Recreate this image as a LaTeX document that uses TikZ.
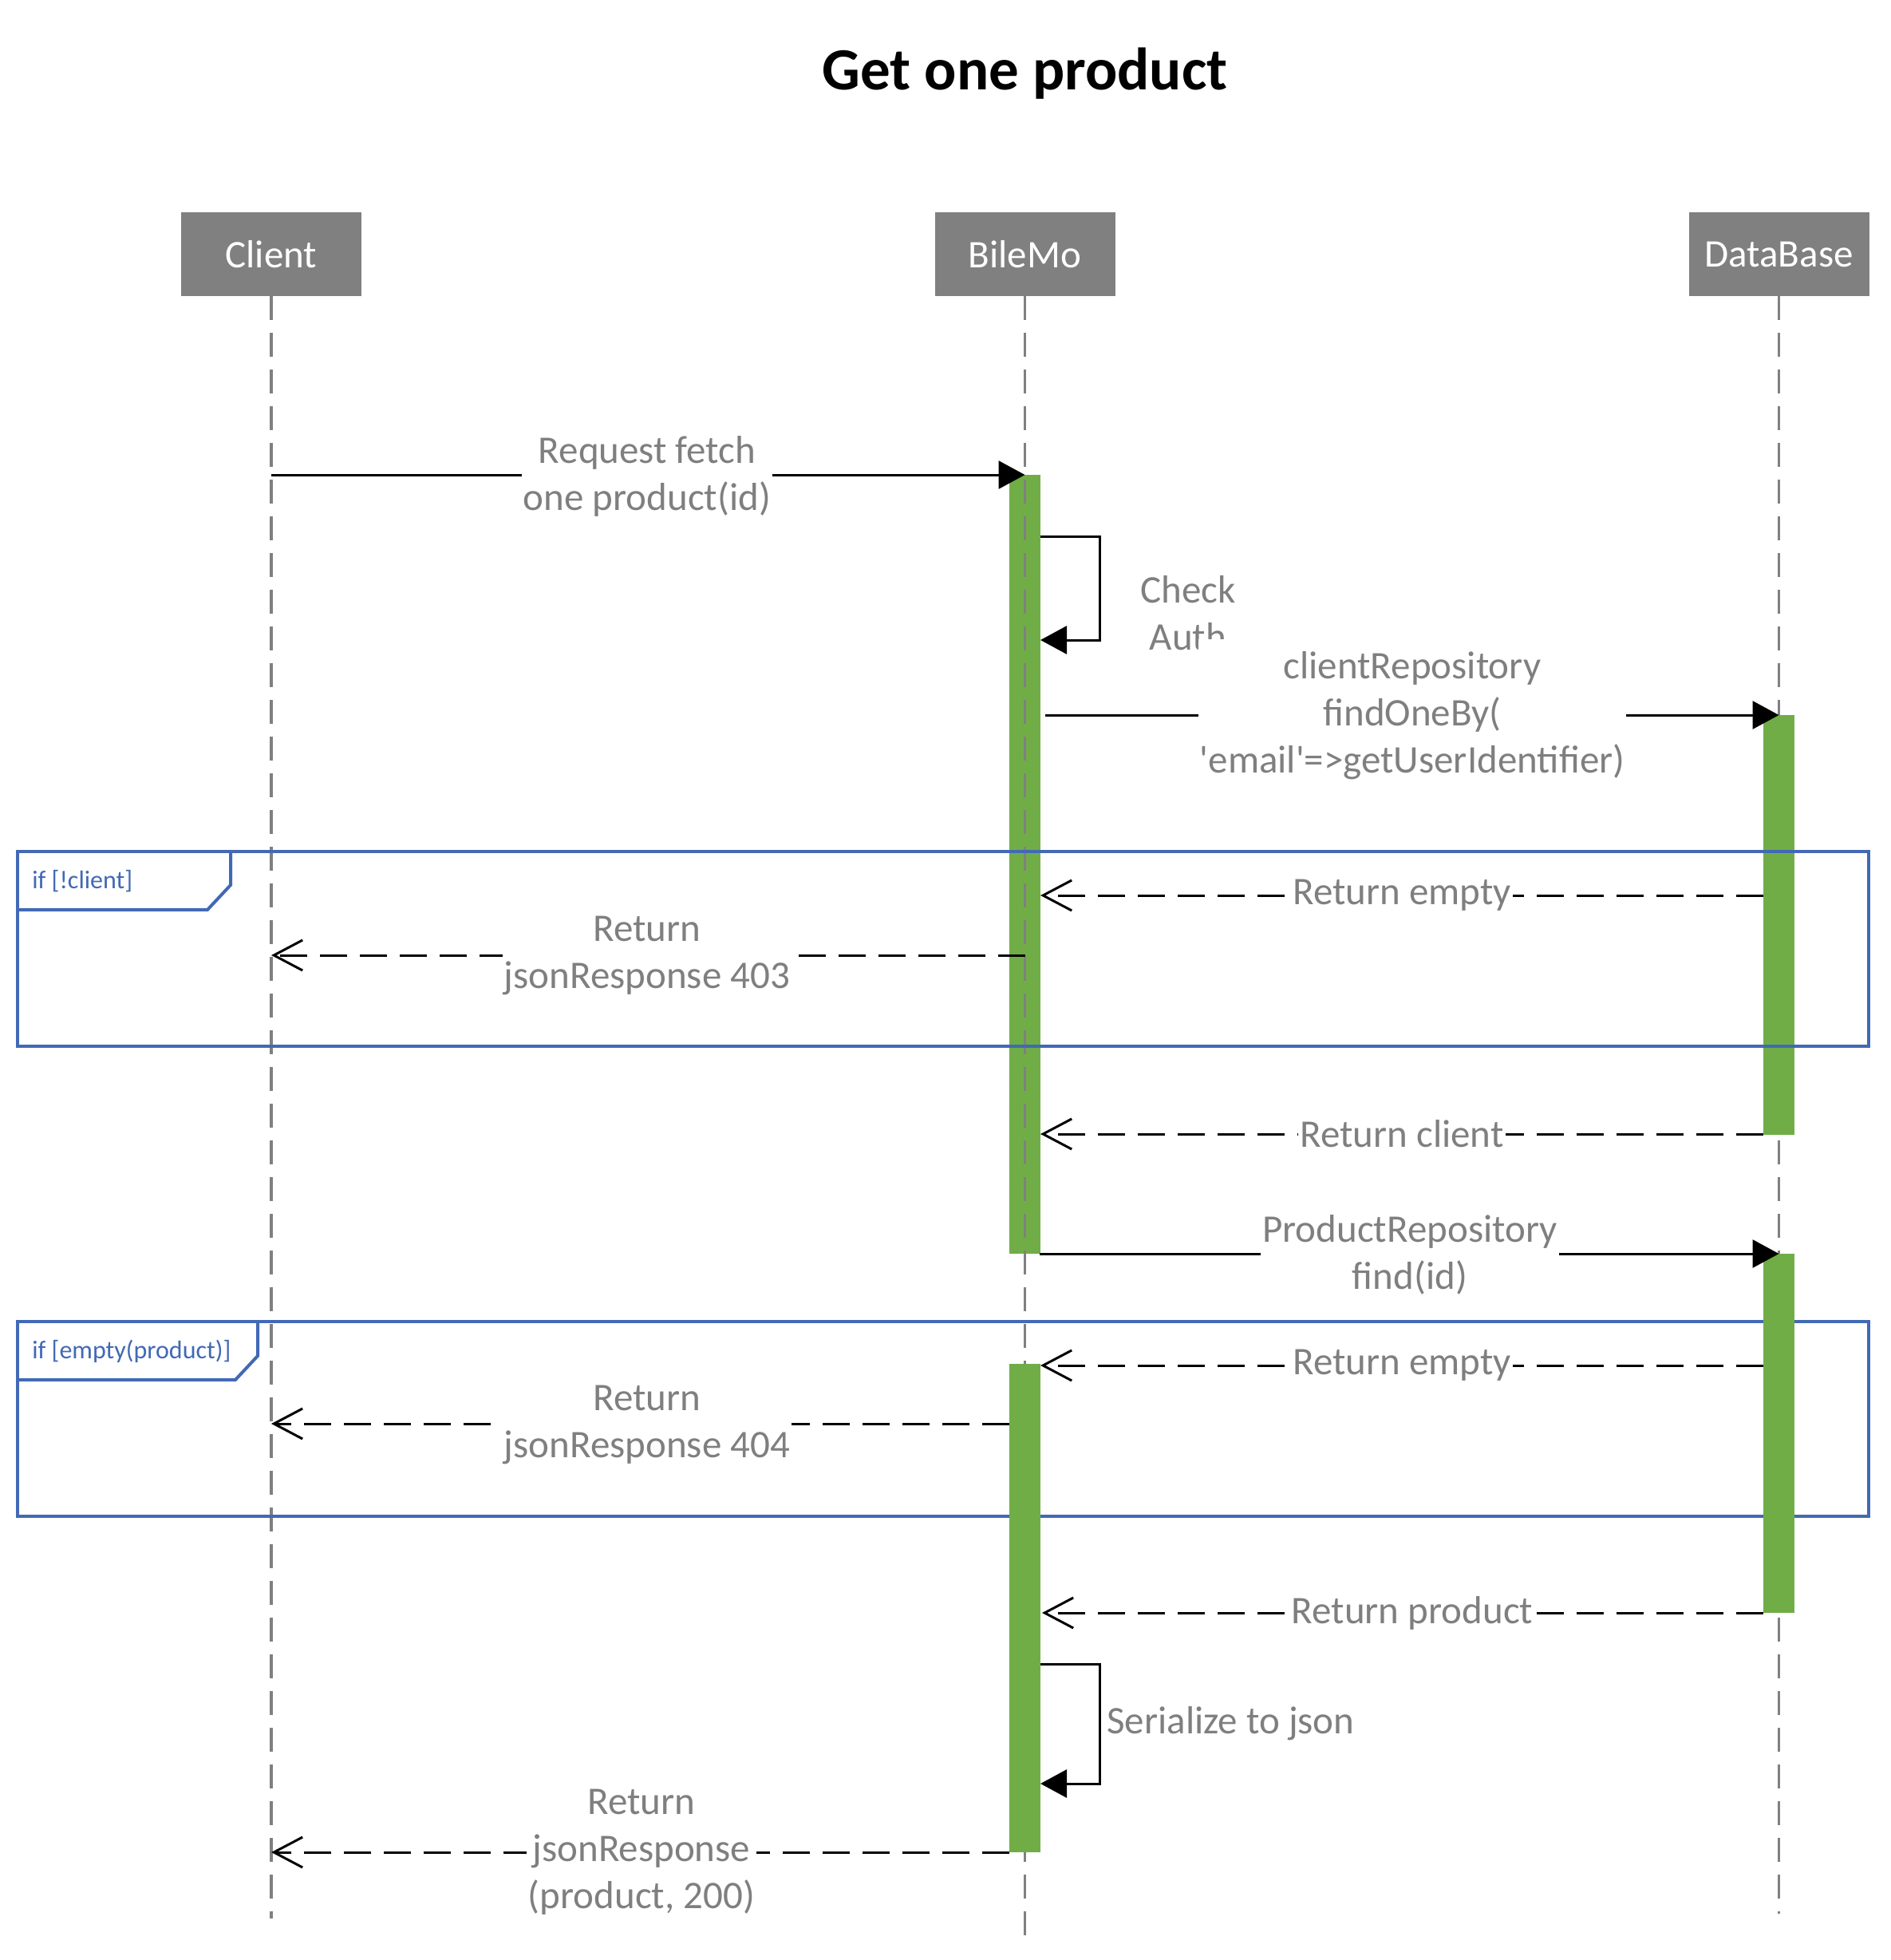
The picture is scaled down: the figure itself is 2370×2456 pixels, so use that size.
\documentclass[tikz,border=0pt]{standalone}
\usepackage{fontspec}
\setmainfont{Carlito}[Ligatures=TeXOff]
\usetikzlibrary{arrows.meta}

\definecolor{lifegray}{HTML}{808080}
\definecolor{actgreen}{HTML}{70AD47}
\definecolor{frameblue}{HTML}{4169B5}
\definecolor{labelgray}{HTML}{7F7F7F}

\begin{document}
\begin{tikzpicture}[x=0.5pt,y=-0.5pt,
  header/.style={fill=lifegray, text=white, minimum width=113pt, minimum height=52.5pt,
    inner sep=0pt, font=\fontsize{24.5}{29.5}\selectfont},
  lifeline/.style={draw=lifegray, line width=1.75pt, dash pattern=on 15pt off 8pt},
  actbar/.style={fill=actgreen, draw=none, inner sep=0pt, minimum width=19.5pt},
  msglabel/.style={fill=white, text=labelgray, inner xsep=1pt, inner ysep=3pt, align=center,
    font=\fontsize{24.5}{29.5}\selectfont},
  looplabel/.style={text=labelgray, inner sep=1pt, align=center,
    font=\fontsize{24.5}{29.5}\selectfont},
  call/.style={draw=black, line width=1.5pt, -{Triangle[length=16.5pt,width=17.5pt]}},
  reply/.style={draw=black, line width=1.5pt, dash pattern=on 17pt off 8pt,
    -{Straight Barb[length=18pt,width=19pt]}},
  framebox/.style={draw=frameblue, line width=2pt},
  framelabel/.style={text=frameblue, anchor=west, inner sep=0pt, font=\fontsize{16}{19}\selectfont},
]
\useasboundingbox (0,0) rectangle (2370,2456);
\fill[white] (0,0) rectangle (2370,2456);

% title
\node[font=\bfseries\fontsize{37.5}{45}\selectfont] (title) at (1284.5,92) {Get one product};

% participants
\node[header] (client) at (340,318.5) {Client};
\node[header] (bilemo) at (1284.5,318.5) {BileMo};
\node[header] (db) at (2229.5,318.5) {DataBase};

\coordinate (clientEnd) at (340,2404);
\coordinate (bilemoEnd) at (1284.5,2428);
\coordinate (dbEnd) at (2229.5,2398);

% first activation of BileMo (its lifeline shows through)
\node[actbar, minimum height=488pt, anchor=north] (act1) at (1284.5,595) {};

% lifelines
\draw[lifeline] (client.south) -- (clientEnd);
\draw[lifeline] (bilemo.south) -- (bilemoEnd);
\draw[lifeline] (db.south) -- (dbEnd);

% second alternative frame
\draw[framebox] (22,1656) rectangle (2342,1900);
\draw[framebox] (22,1729) -- (295,1729) -- (323,1699) -- (323,1656);
\node[framelabel] (f2label) at (40,1693) {if [empty(product)]};

% other activations
\node[actbar, minimum height=263pt, anchor=north] (act2) at (2229.5,896) {};
\node[actbar, minimum height=225pt, anchor=north] (act3) at (2229.5,1571) {};
\node[actbar, minimum height=306pt, anchor=north] (act4) at (1284.5,1709) {};

% first alternative frame
\draw[framebox] (22,1067) rectangle (2342,1311);
\draw[framebox] (22,1140) -- (260,1140) -- (289,1109) -- (289,1067);
\node[framelabel] (f1label) at (40,1104) {if [!client]};

% message end points
\coordinate (m1s) at (340,595);
\coordinate (m1e) at (1284.5,595);
\coordinate (s1a) at (1304,672);
\coordinate (s1b) at (1304,802);
\coordinate (m2s) at (1310,896);
\coordinate (m2e) at (2229.5,896);
\coordinate (r1s) at (2210,1122);
\coordinate (r1e) at (1304,1122);
\coordinate (r2s) at (1284.5,1197);
\coordinate (r2e) at (340,1197);
\coordinate (r3s) at (2210,1421);
\coordinate (r3e) at (1304,1421);
\coordinate (m3s) at (1303,1571);
\coordinate (m3e) at (2229.5,1571);
\coordinate (r4s) at (2210,1711);
\coordinate (r4e) at (1304,1711);
\coordinate (r5s) at (1265,1784);
\coordinate (r5e) at (340,1784);
\coordinate (r6s) at (2210,2021);
\coordinate (r6e) at (1306,2021);
\coordinate (s2a) at (1304,2085);
\coordinate (s2b) at (1304,2235);
\coordinate (r7s) at (1265,2321);
\coordinate (r7e) at (340,2321);

% messages
\draw[call] (m1s) -- (m1e);
\draw[call] (s1a) -- ++(74,0) |- (s1b);
\draw[call] (m2s) -- (m2e);
\draw[reply] (r1s) -- (r1e);
\draw[reply] (r2s) -- (r2e);
\draw[reply] (r3s) -- (r3e);
\draw[call] (m3s) -- (m3e);
\draw[reply] (r4s) -- (r4e);
\draw[reply] (r5s) -- (r5e);
\draw[reply] (r6s) -- (r6e);
\draw[call] (s2a) -- ++(74,0) |- (s2b);
\draw[reply] (r7s) -- (r7e);

% message labels
\node[msglabel] (l1) at (811,597) {Request fetch\\one product(id)};
\node[looplabel] (ls1) at (1489,768) {Check\\Auth};
\node[msglabel, inner ysep=8pt] (l2) at (1770,897) {clientRepository\\findOneBy(\\'email'=>getUserIdentifier)};
\node[msglabel] (lr1) at (1757,1122) {Return empty};
\node[msglabel] (lr2) at (811,1197) {Return\\jsonResponse 403};
\node[msglabel] (lr3) at (1757,1421) {Return client};
\node[msglabel] (l3) at (1767,1572) {ProductRepository\\find(id)};
\node[msglabel] (lr4) at (1757,1711) {Return empty};
\node[msglabel] (lr5) at (811,1785) {Return\\jsonResponse 404};
\node[msglabel] (lr6) at (1770,2021) {Return product};
\node[looplabel, anchor=west] (ls2) at (1385,2160) {Serialize to json};
\node[msglabel] (lr7) at (804,2321) {Return\\jsonResponse\\(product, 200)};
\end{tikzpicture}
\end{document}
